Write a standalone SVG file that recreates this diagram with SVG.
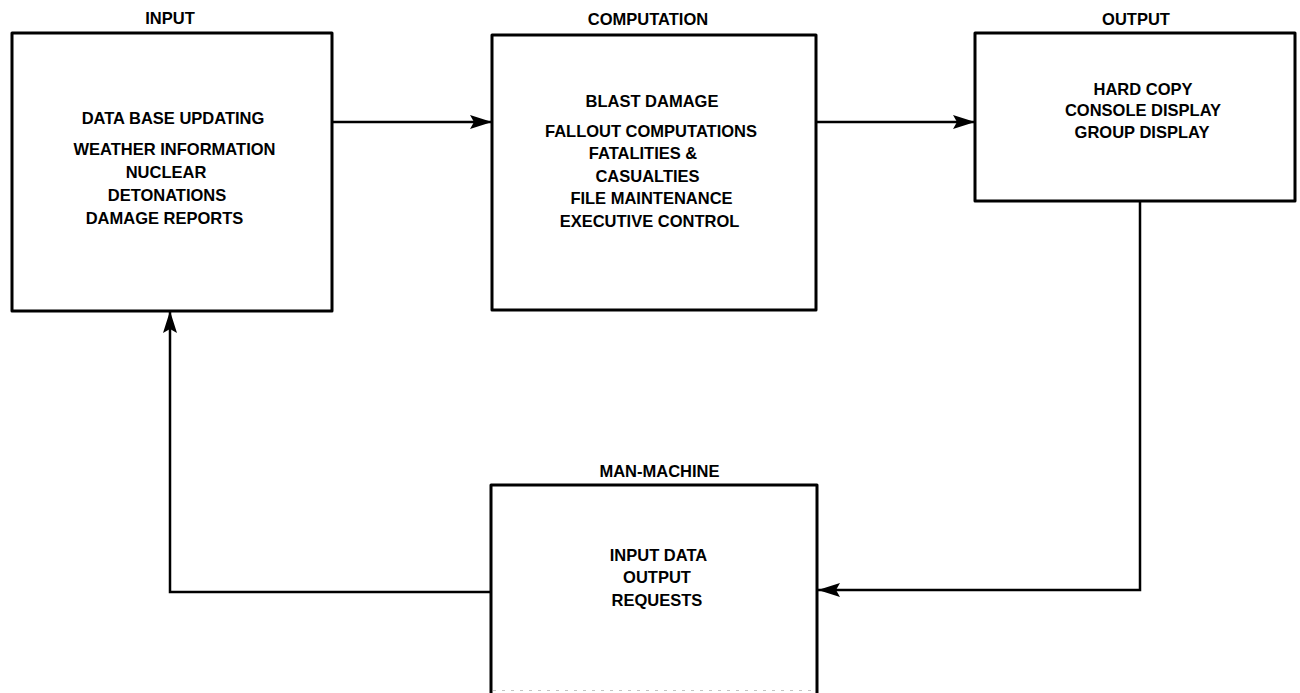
<svg xmlns="http://www.w3.org/2000/svg" width="1300" height="693" viewBox="0 0 1300 693">
  <style>
    .box { fill: #ffffff; stroke: #000000; stroke-width: 3; stroke-linejoin: round; }
    .wire { fill: none; stroke: #000000; stroke-width: 2.5; }
    .txt { font-family: "Liberation Sans", Arial, sans-serif; font-weight: bold; font-size: 16.5px; fill: #000000; text-anchor: middle; }
  </style>
  <defs>
    <marker id="arrow" markerUnits="userSpaceOnUse" markerWidth="22" markerHeight="14" refX="22" refY="7" orient="auto">
      <path d="M0,0 L22,7 L0,14 L4,7 Z" fill="#000000"/>
    </marker>
  </defs>
  <rect width="1300" height="693" fill="#ffffff"/>

  <!-- connectors -->
  <g id="connectors">
    <path class="wire" d="M332,122 H492" marker-end="url(#arrow)"/>
    <path class="wire" d="M817,122 H975" marker-end="url(#arrow)"/>
    <path class="wire" d="M1140,201 V590 H818" marker-end="url(#arrow)"/>
    <path class="wire" d="M491,592 H170 V311" marker-end="url(#arrow)"/>
  </g>

  <!-- INPUT -->
  <g id="input">
    <text class="txt" x="170" y="24">INPUT</text>
    <rect class="box" x="12" y="33" width="320" height="278"/>
    <text class="txt" x="173" y="124">DATA BASE UPDATING</text>
    <text class="txt" x="174.5" y="155">WEATHER INFORMATION</text>
    <text class="txt" x="166" y="178">NUCLEAR</text>
    <text class="txt" x="167" y="201">DETONATIONS</text>
    <text class="txt" x="164.5" y="224">DAMAGE REPORTS</text>
  </g>

  <!-- COMPUTATION -->
  <g id="computation">
    <text class="txt" x="648" y="25">COMPUTATION</text>
    <rect class="box" x="492" y="35" width="324" height="275"/>
    <text class="txt" x="652" y="107">BLAST DAMAGE</text>
    <text class="txt" x="651" y="137">FALLOUT COMPUTATIONS</text>
    <text class="txt" x="643" y="159">FATALITIES &amp;</text>
    <text class="txt" x="647.5" y="182">CASUALTIES</text>
    <text class="txt" x="651.5" y="204">FILE MAINTENANCE</text>
    <text class="txt" x="649.5" y="227">EXECUTIVE CONTROL</text>
  </g>

  <!-- OUTPUT -->
  <g id="output">
    <text class="txt" x="1136" y="25">OUTPUT</text>
    <rect class="box" x="975" y="33" width="320" height="168"/>
    <text class="txt" x="1143" y="95">HARD COPY</text>
    <text class="txt" x="1143" y="116">CONSOLE DISPLAY</text>
    <text class="txt" x="1142" y="138">GROUP DISPLAY</text>
  </g>

  <!-- MAN-MACHINE -->
  <g id="man-machine">
    <text class="txt" x="659.5" y="477">MAN-MACHINE</text>
    <rect class="box" x="491" y="485" width="326" height="230"/>
    <line x1="493" y1="690.5" x2="815" y2="690.5" stroke="#9a9a9a" stroke-width="1" stroke-dasharray="3 6" opacity="0.6"/>
    <text class="txt" x="658.5" y="561">INPUT DATA</text>
    <text class="txt" x="657" y="583">OUTPUT</text>
    <text class="txt" x="657" y="606">REQUESTS</text>
  </g>
</svg>
